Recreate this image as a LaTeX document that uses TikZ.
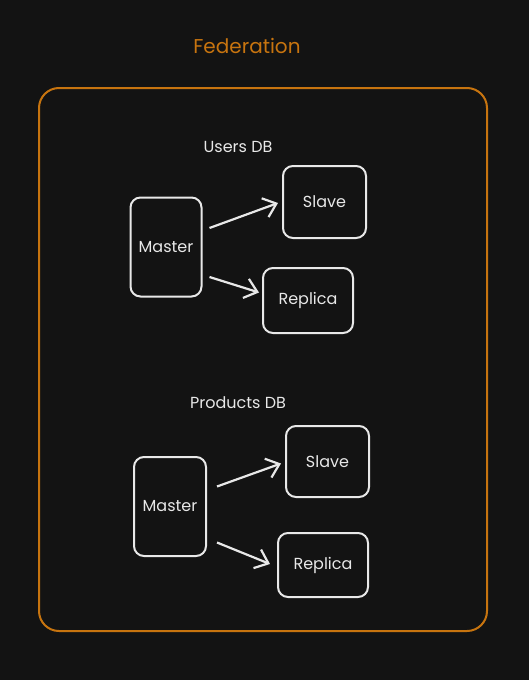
\documentclass[tikz,border=0pt]{standalone}
\usepackage{fontspec}
\setmainfont{Poppins}
\usetikzlibrary{arrows.meta,calc}
\definecolor{bg}{HTML}{131313}
\definecolor{fedorange}{HTML}{C7740F}
\definecolor{ink}{HTML}{E8E8E8}
\tikzset{
  dbbox/.style={draw=ink, line width=2pt, rounded corners=10pt, fill=bg, text=ink, font=\fontsize{16}{18}\selectfont, inner sep=0pt},
  conn/.style={draw=ink, line width=2.2pt, -{Straight Barb[length=12pt,width=20pt,line width=2.2pt]}},
  grouplabel/.style={text=ink, font=\fontsize{16}{18}\selectfont},
}
\begin{document}
\begin{tikzpicture}[x=1pt,y=-1pt]
\fill[bg] (0,0) rectangle (529,680);
\useasboundingbox (0,0) rectangle (529,680);
\node[text=fedorange, font=\fontsize{20}{24}\selectfont] (title) at (247,46) {Federation};
\draw[fedorange, line width=2pt, rounded corners=20pt] (39,88) rectangle (487,631);
\node[grouplabel] (users) at (238,147) {Users DB};
\node[dbbox, minimum width=71pt, minimum height=99pt] (m1) at (166,247) {Master};
\node[dbbox, minimum width=83pt, minimum height=72pt] (s1) at (324.5,202) {Slave};
\node[dbbox, minimum width=90pt, minimum height=65pt] (r1) at (308,300.5) {Replica};
\draw[conn] ($(m1.east)+(7,-19)$) -- ($(s1.west)+(-4,1)$);
\draw[conn] ($(m1.east)+(7,30)$) -- ($(r1.west)+(-3,-8)$);
\node[grouplabel] (products) at (238,403) {Products DB};
\node[dbbox, minimum width=72pt, minimum height=99pt] (m2) at (170,506.5) {Master};
\node[dbbox, minimum width=83pt, minimum height=71pt] (s2) at (327.5,461.5) {Slave};
\node[dbbox, minimum width=90pt, minimum height=64pt] (r2) at (323,565) {Replica};
\draw[conn] ($(m2.east)+(10,-20)$) -- ($(s2.west)+(-4,2)$);
\draw[conn] ($(m2.east)+(10,36)$) -- ($(r2.west)+(-7,-1)$);
\end{tikzpicture}
\end{document}
